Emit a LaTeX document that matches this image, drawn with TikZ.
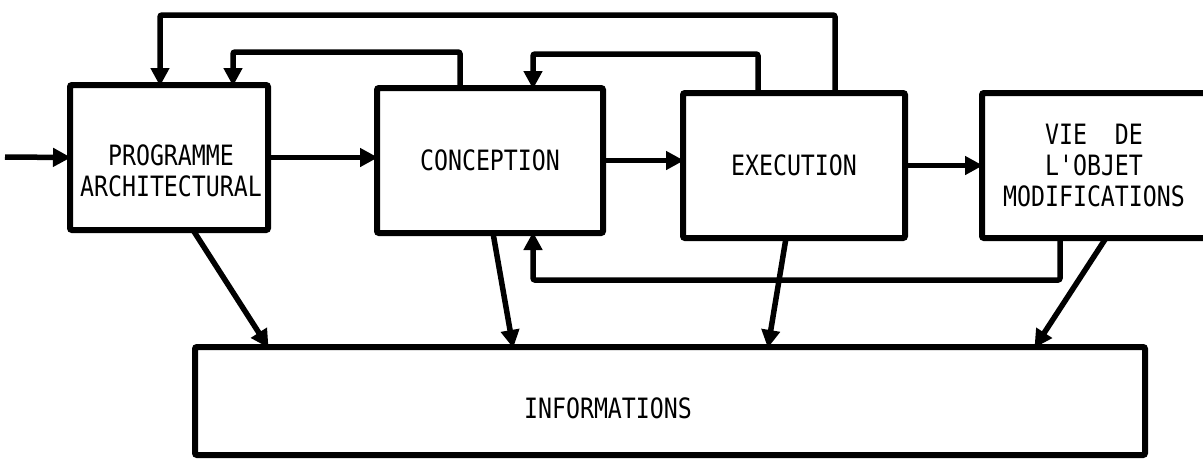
\documentclass[tikz,border=0pt]{standalone}
\usepackage{fontspec}
\newfontfamily\plotfont[FakeStretch=0.83]{DejaVu Sans Mono}
\usetikzlibrary{arrows.meta,calc}
\begin{document}
\begin{tikzpicture}[x=1pt,y=-1pt,
  box/.style={draw,line width=6pt,rounded corners=2pt,inner sep=0pt,outer sep=0pt,
    align=center,font=\plotfont\fontsize{28}{31}\selectfont},
  lbl/.style={inner sep=0pt,align=center,font=\plotfont\fontsize{28}{31}\selectfont},
  link/.style={line width=5.5pt,rounded corners=2pt,-{Triangle[length=18pt,width=18pt]},shorten >=-1pt}]
\clip (0,0) rectangle (1203,466);
% boxes
\node[box,minimum width=198pt,minimum height=145pt] (pa) at (169,157.5) {};
\node[lbl] (patext) at (171,171) {PROGRAMME\\ARCHITECTURAL};
\node[box,minimum width=226pt,minimum height=145pt] (con) at (490,160.5) {CONCEPTION};
\node[box,minimum width=222pt,minimum height=145pt] (exe) at (794,165.5) {EXECUTION};
\node[box,minimum width=224pt,minimum height=145pt] (vie) at (1094,165.5) {VIE\ \ DE\\L'OBJET\\MODIFICATIONS};
\node[box,minimum width=950pt,minimum height=108pt] (info) at (670,401) {};
\node[lbl] (infotext) at (608,408) {INFORMATIONS};
% helper coordinates
\coordinate (in) at (5,157);
\coordinate (o1) at (835,15);
\coordinate (o2) at (160,15);
\coordinate (m1) at (460,52);
\coordinate (m2) at (233,52);
\coordinate (i1) at (758,54);
\coordinate (i2) at (533,54);
\coordinate (b1) at (1060,280);
\coordinate (b2) at (533,280);
\coordinate (d1a) at (193,0);
\coordinate (d1b) at (268,0);
\coordinate (d2a) at (493,0);
\coordinate (d2b) at (513,0);
\coordinate (d3a) at (786,0);
\coordinate (d3b) at (768,0);
\coordinate (d4a) at (1106,0);
\coordinate (d4b) at (1035,0);
% main flow
\draw[link] (in) -- (pa.west);
\draw[link] (pa.east) -- (pa.east -| con.west);
\draw[link] (con.east) -- (con.east -| exe.west);
\draw[link] (exe.east) -- (exe.east -| vie.west);
% feedback loops on top
\draw[link] (exe.north -| o1) -- (o1) -- (o2) -- (pa.north -| o2);
\draw[link] (con.north -| m1) -- (m1) -- (m2) -- (pa.north -| m2);
\draw[link] (exe.north -| i1) -- (i1) -- (i2) -- (con.north -| i2);
% feedback loop below
\draw[link] (vie.south -| b1) -- (b1) -- (b2) -- (con.south -| b2);
% information arrows
\draw[link] (pa.south -| d1a) -- (info.north -| d1b);
\draw[link] (con.south -| d2a) -- (info.north -| d2b);
\draw[link] (exe.south -| d3a) -- (info.north -| d3b);
\draw[link] (vie.south -| d4a) -- (info.north -| d4b);
\end{tikzpicture}
\end{document}
